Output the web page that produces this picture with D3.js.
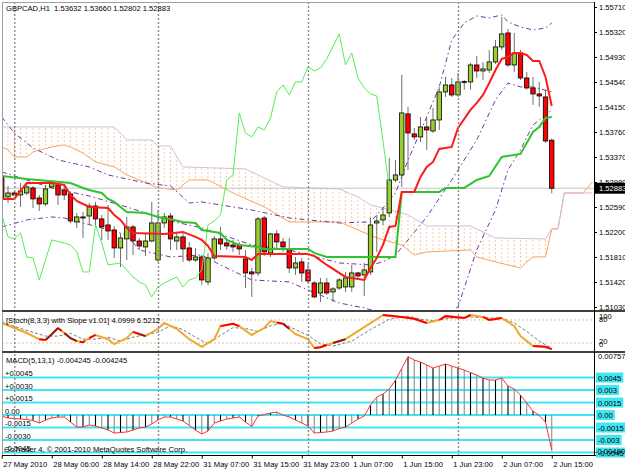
<!DOCTYPE html>
<html>
<head>
<meta charset="utf-8">
<script src="https://cdn.jsdelivr.net/npm/d3@7"></script>
<style>
  body { margin: 0; background: #fff; }
  text { font-family: "Liberation Sans", Arial, sans-serif; font-size: 7.6px; fill: #000; }
</style>
</head>
<body>
<script>
// GBPCAD H1, one bar per hour, bar 0 = 27 May 2010 22:00
const titleText = "GBPCAD,H1  1.53632 1.53660 1.52802 1.52883";
const stochTitle = "[Stoch(8,3,3) with Slope v1.01] 4.0999 6.5212";
const macdTitle = "MACD(5,13,1) -0.004245 -0.004245";
const copyright = "GoTrader 4, \u00a9 2001-2010 MetaQuotes Software Corp.";

const opens = [1.53059,1.52747,1.52809,1.52778,1.52809,1.52887,1.52731,1.52638,1.52903,1.52934,
  1.52856,1.52794,1.52357,1.52435,1.5245,1.52606,1.52404,1.5231,1.52232,1.51951,
  1.52092,1.52279,1.5206,1.51967,1.5206,1.51764,1.52341,1.5245,1.5206,1.52123,
  1.51951,1.51764,1.51811,1.51421,1.51795,1.52092,1.52029,1.51998,1.51998,1.5178,
  1.51577,1.51561,1.52419,1.51873,1.5217,1.52045,1.51936,1.51639,1.51733,1.51608,
  1.51405,1.51249,1.51405,1.51265,1.51327,1.51343,1.51343,1.51561,1.5153,1.51577,
  1.52341,1.52388,1.52497,1.53012,1.5309,1.54042,1.5373,1.53683,1.53839,1.53776,
  1.53948,1.54385,1.54494,1.54338,1.54541,1.54541,1.54806,1.54712,1.54728,1.54853,
  1.55087,1.55305,1.54806,1.54993,1.54603,1.54447,1.54354,1.54307,1.53632];
const highs = [1.53199,1.52918,1.5284,1.52965,1.5298,1.52918,1.52778,1.52934,1.5298,1.52965,
  1.52934,1.52825,1.52497,1.52513,1.52653,1.52669,1.52466,1.52622,1.52294,1.52185,
  1.52435,1.5231,1.52107,1.52185,1.52669,1.52544,1.52497,1.52497,1.52201,1.52201,
  1.52045,1.51951,1.51842,1.51873,1.52138,1.52279,1.52107,1.52076,1.52045,1.5192,
  1.51639,1.52435,1.5245,1.52185,1.52232,1.52107,1.52107,1.51811,1.51795,1.51717,
  1.51436,1.51483,1.51483,1.51343,1.51483,1.51577,1.51686,1.51577,1.51717,1.52419,
  1.52466,1.52591,1.53355,1.53324,1.5465,1.54151,1.53823,1.53995,1.53979,1.54135,
  1.54463,1.54619,1.54603,1.54681,1.54572,1.54837,1.54946,1.54853,1.5504,1.55196,
  1.55555,1.55368,1.55305,1.5504,1.54697,1.54619,1.54541,1.5442,1.5366];
const lows = [1.527,1.52653,1.52762,1.52591,1.52778,1.52575,1.52528,1.52606,1.52872,1.52622,
  1.527,1.52341,1.52263,1.52107,1.5231,1.52279,1.52076,1.52076,1.51795,1.51655,
  1.51764,1.51842,1.5192,1.51826,1.52045,1.51733,1.52263,1.5192,1.5192,1.51733,
  1.51733,1.51733,1.51374,1.51374,1.51764,1.5192,1.5192,1.51889,1.51842,1.51327,
  1.51187,1.51514,1.51826,1.51811,1.5192,1.51889,1.51561,1.5153,1.51421,1.51405,
  1.51171,1.51108,1.51218,1.51108,1.51296,1.51265,1.51265,1.51483,1.51202,1.5153,
  1.51889,1.5231,1.52435,1.5298,1.52903,1.53168,1.53636,1.53605,1.5348,1.53745,
  1.53792,1.54307,1.54307,1.54307,1.5442,1.5442,1.54603,1.54572,1.54681,1.54822,
  1.5504,1.54775,1.54697,1.54572,1.5442,1.54182,1.54151,1.53589,1.52802];
const closes = [1.52716,1.52809,1.52778,1.5284,1.52903,1.52716,1.52638,1.52872,1.52965,1.52778,
  1.52778,1.52372,1.52435,1.52419,1.52606,1.52404,1.52279,1.52216,1.51951,1.52107,
  1.52279,1.5206,1.51982,1.5206,1.52341,1.52341,1.52435,1.52092,1.52123,1.51936,
  1.51764,1.51811,1.51452,1.51795,1.52092,1.52014,1.51982,1.51967,1.51936,1.51561,
  1.51546,1.52404,1.51889,1.5217,1.52045,1.51967,1.51639,1.51717,1.51561,1.51436,
  1.51187,1.51405,1.51249,1.51312,1.51452,1.51483,1.51561,1.51514,1.51608,1.5231,
  1.52372,1.52466,1.53012,1.5309,1.54057,1.53745,1.53683,1.53839,1.53792,1.53948,
  1.54385,1.54494,1.54338,1.54541,1.54549,1.54806,1.54712,1.54744,1.54853,1.55087,
  1.5529,1.54806,1.54993,1.54603,1.54447,1.54354,1.54322,1.5362,1.52883];
const lastPrice = 1.52883;

// ichimoku lines, [bar, price]
const tenkan = [[0,1.52716],[2,1.52716],[4,1.52965],[8,1.52965],[10,1.52934],[11,1.52778],[12,1.52684],
  [14,1.52591],[17,1.52575],[18,1.52466],[19,1.52388],[20,1.52263],[21,1.52185],[26,1.5217],[29,1.52201],
  [31,1.52123],[32,1.52076],[33,1.51982],[34,1.51826],[39,1.51811],[40,1.51764],[41,1.51858],[49,1.51858],
  [50,1.51826],[52,1.51686],[55,1.51499],[58,1.51452],[59,1.51639],[60,1.51795],[61,1.51998],[62,1.52279],
  [63,1.52294],[64,1.52825],[66,1.52825],[67,1.53059],[68,1.53215],[69,1.53293],[70,1.53496],[72,1.53527],
  [73,1.53823],[75,1.54104],[76,1.54213],[77,1.54338],[78,1.54525],[79,1.54728],[80,1.549],[81,1.54931],
  [82,1.54993],[83,1.54993],[84,1.54962],[85,1.54868],[86,1.54868],[87,1.54619],[88,1.54166]];
const kijun = [[0,1.53074],[4,1.53028],[11,1.52965],[13,1.52887],[14,1.52856],[16,1.52809],[17,1.52716],
  [18,1.52669],[19,1.52591],[20,1.52513],[23,1.52497],[25,1.52435],[26,1.52419],[29,1.52357],[31,1.52341],
  [32,1.52232],[33,1.52216],[35,1.52185],[36,1.52076],[38,1.51998],[41,1.51967],[42,1.51936],[49,1.51936],
  [50,1.51873],[52,1.51811],[63,1.51811],[64,1.52825],[70,1.52825],[71,1.52887],[74,1.52887],[76,1.53012],
  [78,1.53074],[80,1.53371],[83,1.53418],[84,1.5359],[85,1.53761],[86,1.53839],[87,1.53979],[88,1.53995]];
const chikou = [[0,1.52466],[1,1.52123],[2,1.52092],[3,1.52185],[4,1.51811],[5,1.51795],[6,1.51452],
  [7,1.51764],[8,1.52076],[10,1.52029],[11,1.51998],[12,1.51889],[13,1.51577],[14,1.51577],[15,1.5231],
  [16,1.52029],[17,1.51686],[19,1.51717],[21,1.51499],[22,1.51421],[23,1.51374],[24,1.51187],[25,1.51343],
  [26,1.51405],[28,1.51499],[29,1.51343],[30,1.51452],[31,1.51483],[32,1.51608],[33,1.5231],[34,1.52372],
  [35,1.52466],[36,1.53012],[37,1.5309],[38,1.54057],[39,1.53745],[40,1.53683],[41,1.53839],[42,1.53792],
  [43,1.53979],[44,1.54385],[45,1.54494],[46,1.54338],[47,1.54541],[48,1.54541],[49,1.54775],[50,1.54712],
  [51,1.54759],[52,1.549],[54,1.5529],[55,1.54806],[56,1.54993],[57,1.54603],[58,1.54447],[59,1.54354],
  [60,1.54322],[61,1.5362],[62,1.52883]];
const spanA = [[0,1.53527],[1,1.5348],[2,1.53371],[4,1.53371],[5,1.53449],[8,1.53527],[10,1.53558],
  [11,1.53527],[13,1.53433],[15,1.53293],[18,1.53215],[20,1.5309],[22,1.53012],[25,1.52887],[28,1.52856],
  [30,1.53012],[33,1.53012],[37,1.52809],[42,1.52591],[46,1.52357],[54,1.52357],[57,1.52232],[60,1.52107],
  [64,1.51998],[66,1.51842],[68,1.51889],[75,1.5192],[76,1.51811],[79,1.51733],[83,1.51639],[84,1.51733],
  [85,1.51811],[87,1.51811],[88,1.52248],[89,1.52248],[90,1.52809],[93,1.52809],[94.5,1.5298]];
const spanB = [[0,1.53839],[18,1.53839],[20,1.53636],[24,1.53636],[25,1.53542],[27,1.53542],[29,1.53215],
  [39,1.53184],[45,1.52903],[54,1.52872],[57,1.52747],[59,1.52622],[64,1.52497],[65,1.52466],[68,1.52294],
  [75,1.52294],[79,1.52107],[87,1.52092],[88,1.52248],[89,1.52248],[90,1.52809],[94.5,1.52809]];

// bollinger style envelope, [bar, price]
const bandUpper = [[0,1.53995],[2,1.53745],[5,1.53511],[9,1.53324],[14,1.53215],[17,1.5309],[23,1.52965],
  [27,1.52918],[30,1.52653],[32,1.52669],[40,1.52544],[46,1.52419],[54,1.52341],[59,1.52357],[61,1.52575],
  [63,1.52809],[65,1.5332],[68,1.53995],[70,1.54463],[72,1.55196],[74,1.55461],[76,1.5557],[78,1.55539],
  [80,1.55586],[81,1.55477],[83,1.55399],[85,1.55352],[87,1.55383],[88,1.55461]];
const bandMiddle = [[0,1.53137],[8,1.52887],[14,1.52762],[20,1.52591],[27,1.52372],[32,1.52263],[40,1.51998],
  [46,1.5192],[54,1.51717],[59,1.51686],[61,1.51733],[63,1.51842],[65,1.52076],[68,1.52435],[72,1.53012],
  [76,1.53636],[79,1.5426],[81,1.54525],[83,1.54463],[85,1.54463],[88,1.54385]];
const bandLower = [[0,1.52279],[4,1.52388],[8,1.52435],[10,1.52419],[16,1.52263],[20,1.52154],[22,1.5192],
  [27,1.51811],[32,1.51842],[35,1.51686],[40,1.51452],[46,1.51421],[49,1.51296],[54,1.51093],[58,1.51015],
  [62,1.50906],[68,1.50672],[73,1.51031],[76,1.5192],[79,1.52544],[81,1.53168],[83,1.5348],[85,1.5387],
  [88,1.54104]];

// stochastic, [bar, value]
const stochMain = [[0,72],[2,59],[4,46],[6,30],[7,28],[8,43],[9,59],[10,46],[11,33],[12,25],[13,22],[14,33],
  [15,41],[17,30],[18,17],[20,33],[21,49],[23,38],[25,57],[26,72],[28,57],[30,30],[32,10],[34,30],[35,64],
  [37,70],[38,64],[40,41],[42,59],[43,77],[45,70],[46,57],[47,43],[49,30],[50,7],[51,9],[52,15],[55,30],
  [57,51],[59,72],[61,93],[64,88],[66,83],[68,72],[70,80],[71,90],[74,85],[75,93],[77,88],[78,80],[80,85],
  [82,64],[83,38],[85,12],[87,10],[88,4.0999]];
const stochSignal = [[0,75],[3,58],[7,38],[9,38],[11,45],[13,30],[15,30],[17,35],[19,25],[21,35],[23,42],
  [25,48],[27,65],[29,55],[31,35],[33,18],[35,40],[37,60],[39,58],[41,50],[43,65],[45,72],[47,55],[49,40],
  [51,18],[53,12],[56,25],[59,55],[62,82],[65,90],[67,82],[69,78],[72,85],[75,88],[78,85],[80,85],[82,72],
  [84,50],[86,25],[88,6.5212]];
const slopeRed = [[6,7],[9,9.6],[12.5,13.3],[14,15],[21,22],[35,38],[44,45],[50,52],[61,68],[70,75],[77,80],[85,88]];
const slopeDark = [[7,9],[10,12],[22,23],[45,46],[53,55]];
const stochLevels = [80, 20];

// MACD main per bar (signal period 1 so the signal equals it)
const macd = [-0.00012,-0.00036,-0.00042,-0.00048,-0.00054,-0.00066,-0.00096,-0.0006,-0.00036,-0.00024,
  -0.00024,-0.00084,-0.00144,-0.00144,-0.0012,-0.00132,-0.00156,-0.0018,-0.00216,-0.0021,
  -0.00204,-0.0018,-0.00156,-0.00144,-0.00108,-0.0006,-0.00024,-0.00024,-0.00048,-0.00072,
  -0.00126,-0.0018,-0.00228,-0.00192,-0.00096,-0.00072,-0.00048,-0.00036,-0.00024,-0.00084,
  -0.00138,-0.00012,0.00006,0.00024,0.00036,0,-0.00024,-0.0006,-0.00096,-0.00132,
  -0.00216,-0.0021,-0.00204,-0.00192,-0.00162,-0.00144,-0.00096,-0.00048,-0.00012,0.0012,
  0.00216,0.00252,0.00312,0.0042,0.0056,0.007,0.0066,0.00636,0.006,0.00564,
  0.00588,0.00612,0.00588,0.00564,0.0054,0.0051,0.0048,0.00444,0.0042,0.0042,
  0.00444,0.00348,0.00312,0.0024,0.00144,0.00048,-0.00006,-0.00084,-0.004245];
const macdLevels = [0.0045, 0.003, 0.0015, 0, -0.0015, -0.003, -0.0045];
const macdLeftLabels = ["+0.0045","+0.0030","+0.0015","0.00","-0.0015","-0.0030","-0.0045"];
const macdRightLabels = ["0.0045","0.003","0.0015","0.00","-0.0015","-0.003","-0.0045"];
const macdMax = 0.00757, macdMin = -0.0048;

const priceTicks = ["1.55710","1.55320","1.54930","1.54540","1.54150","1.53760","1.53370",
  "1.52980","1.52590","1.52200","1.51810","1.51420","1.51030"];
const timeTickBars = [0,8,16,24,32,40,48,56,64,72,80,88];
const timeTickLabels = ["27 May 2010","28 May 06:00","28 May 14:00","28 May 22:00","31 May 07:00",
  "31 May 15:00","31 May 23:00","1 Jun 07:00","1 Jun 15:00","1 Jun 23:00","2 Jun 07:00","2 Jun 15:00"];
const daySeparators = [2, 25, 49, 73];

// ---- layout ----
const W = 625, H = 469;
const left = 2, right = 594;
const mainTop = 2, mainBot = 310, stTop = 312, stBot = 351, mdTop = 353, mdBot = 455;

const x = d3.scaleLinear().domain([0, 88]).range([1.75, 551.75]);
const y = d3.scaleLinear().domain([1.5103, 1.5571]).range([307, 7]);
const ySt = d3.scaleLinear().domain([0, 100]).range([350.7, 312.3]);
const yMd = d3.scaleLinear().domain([macdMin, macdMax]).range([455, 352]);

const svg = d3.select("body").append("svg").attr("width", W).attr("height", H);
svg.append("rect").attr("width", W).attr("height", H).attr("fill", "#fff");

const defs = svg.append("defs");
function clip(id, x0, y0, x1, y1) {
  defs.append("clipPath").attr("id", id).append("rect")
    .attr("x", x0).attr("y", y0).attr("width", x1 - x0).attr("height", y1 - y0);
}
clip("clipMain", left, mainTop, right, mainBot);
clip("clipSt", left, stTop, right, stBot);
clip("clipMd", left, mdTop, right, mdBot);

let pat = defs.append("pattern").attr("id", "kumo").attr("patternUnits", "userSpaceOnUse")
  .attr("x", x(0) - 3.125).attr("y", 0).attr("width", 6.25).attr("height", 4);
pat.append("rect").attr("x", 2.6).attr("y", 0).attr("width", 1).attr("height", 2).attr("fill", "#f6c9a4");

// value of a [bar, v] polyline at bar b
function at(pts, b) {
  if (b <= pts[0][0]) return pts[0][1];
  for (let k = 1; k < pts.length; k++) {
    if (b <= pts[k][0]) {
      let b0 = pts[k - 1][0], v0 = pts[k - 1][1], b1 = pts[k][0], v1 = pts[k][1];
      return v0 + (v1 - v0) * (b - b0) / (b1 - b0);
    }
  }
  return pts[pts.length - 1][1];
}
function slice(pts, s, e) {
  let out = [[s, at(pts, s)]];
  pts.forEach(p => { if (p[0] > s && p[0] < e) out.push(p); });
  out.push([e, at(pts, e)]);
  return out;
}

// ---- main panel ----
let g = svg.append("g").attr("clip-path", "url(#clipMain)");
let line = d3.line().x(d => x(d[0])).y(d => y(d[1]));

let cloudBars = Array.from(new Set(spanA.map(d => d[0]).concat(spanB.map(d => d[0])))).sort((a, b) => a - b);
g.append("path")
  .attr("d", d3.area().x(b => x(b)).y0(b => y(at(spanA, b))).y1(b => y(at(spanB, b)))(cloudBars))
  .attr("fill", "url(#kumo)");
g.append("path").attr("d", line(spanA)).attr("fill", "none").attr("stroke", "#f4a460").attr("stroke-width", 1);
g.append("path").attr("d", line(spanB)).attr("fill", "none").attr("stroke", "#d8bcd8").attr("stroke-width", 1);

g.append("line")
  .attr("x1", left).attr("x2", right).attr("y1", y(lastPrice)).attr("y2", y(lastPrice))
  .attr("stroke", "#c4c4c4").attr("stroke-width", 1);

[bandUpper, bandMiddle, bandLower].forEach(band => {
  g.append("path").attr("d", line(band)).attr("fill", "none")
    .attr("stroke", "#6b3a9e").attr("stroke-width", 1).attr("stroke-dasharray", "5,3,1.5,3");
});

let idx = d3.range(opens.length);
g.selectAll(".wick").data(idx).enter().append("line")
  .attr("class", "wick")
  .attr("x1", i => x(i)).attr("x2", i => x(i))
  .attr("y1", i => y(highs[i])).attr("y2", i => y(lows[i]))
  .attr("stroke", "#707070").attr("stroke-width", 1);
g.selectAll(".body").data(idx).enter().append("rect")
  .attr("class", "body")
  .attr("x", i => x(i) - 2.2).attr("width", 4.4)
  .attr("y", i => y(Math.max(opens[i], closes[i])))
  .attr("height", i => Math.max(1, Math.abs(y(opens[i]) - y(closes[i]))))
  .attr("fill", i => closes[i] >= opens[i] ? "#9acd32" : "#ff0000")
  .attr("stroke", "#000").attr("stroke-width", 0.8);

g.append("path").attr("d", line(chikou)).attr("fill", "none").attr("stroke", "#55ee55").attr("stroke-width", 1);
g.append("path").attr("d", line(kijun)).attr("fill", "none").attr("stroke", "#2fc42f").attr("stroke-width", 2);
g.append("path").attr("d", line(tenkan)).attr("fill", "none").attr("stroke", "#ff1a1a").attr("stroke-width", 2);

// ---- stochastic panel ----
let gs = svg.append("g").attr("clip-path", "url(#clipSt)");
let lineSt = d3.line().x(d => x(d[0])).y(d => ySt(d[1]));
stochLevels.forEach(v => {
  gs.append("line").attr("x1", left).attr("x2", right).attr("y1", ySt(v)).attr("y2", ySt(v))
    .attr("stroke", "#d9c3a3").attr("stroke-dasharray", "2,2");
});
gs.append("path").attr("d", lineSt(stochSignal)).attr("fill", "none")
  .attr("stroke", "#7a7a7a").attr("stroke-width", 1).attr("stroke-dasharray", "3,2");
gs.append("path").attr("d", lineSt(stochMain)).attr("fill", "none")
  .attr("stroke", "#f0a830").attr("stroke-width", 2);
slopeRed.forEach(r => {
  gs.append("path").attr("d", lineSt(slice(stochMain, r[0], r[1]))).attr("fill", "none")
    .attr("stroke", "#ff0000").attr("stroke-width", 2);
});
slopeDark.forEach(r => {
  gs.append("path").attr("d", lineSt(slice(stochMain, r[0], r[1]))).attr("fill", "none")
    .attr("stroke", "#8b1c1c").attr("stroke-width", 2);
});

// ---- MACD panel ----
let gm = svg.append("g").attr("clip-path", "url(#clipMd)");
macdLevels.forEach(v => {
  gm.append("line").attr("x1", left).attr("x2", right).attr("y1", yMd(v)).attr("y2", yMd(v))
    .attr("stroke", "#3fe6f2").attr("stroke-width", 2);
});
gm.selectAll(".hist").data(idx).enter().append("line")
  .attr("class", "hist")
  .attr("x1", i => x(i)).attr("x2", i => x(i))
  .attr("y1", yMd(0)).attr("y2", i => yMd(macd[i]))
  .attr("stroke", i => i % 2 ? "#000" : "#8c8c8c").attr("stroke-width", 1.1);
gm.append("path")
  .attr("d", d3.line().x((d, i) => x(i)).y(d => yMd(d))(macd))
  .attr("fill", "none").attr("stroke", "#ff3030").attr("stroke-width", 1);

macdLevels.forEach((v, k) => {
  svg.append("text").attr("x", 5).attr("y", yMd(v) - 1.5).text(macdLeftLabels[k]);
});
svg.append("text").attr("x", 4).attr("y", 452).text(copyright);

// ---- day separators ----
daySeparators.forEach(b => {
  svg.append("line").attr("x1", x(b) + 0.5).attr("x2", x(b) + 0.5).attr("y1", mainTop).attr("y2", mdBot)
    .attr("stroke", "#8a8a8a").attr("stroke-width", 1.4).attr("stroke-dasharray", "2,2");
});

// ---- frames ----
svg.append("line").attr("x1", left).attr("x2", right).attr("y1", 2.5).attr("y2", 2.5).attr("stroke", "#a0a0a0");
svg.append("line").attr("x1", 2.5).attr("x2", 2.5).attr("y1", 2).attr("y2", mdBot).attr("stroke", "#a0a0a0");
[310.5, 311.5, 351.5, 352.5].forEach(v => {
  svg.append("line").attr("x1", left).attr("x2", W).attr("y1", v).attr("y2", v).attr("stroke", "#404040");
});
svg.append("line").attr("x1", right + 0.5).attr("x2", right + 0.5).attr("y1", 2).attr("y2", mdBot + 1).attr("stroke", "#000");
svg.append("line").attr("x1", left).attr("x2", W).attr("y1", mdBot + 0.5).attr("y2", mdBot + 0.5).attr("stroke", "#000");

// ---- axes ----
let pAxis = svg.append("g").attr("transform", "translate(" + right + ",0)")
  .call(d3.axisRight(y).tickValues(priceTicks.map(Number)).tickFormat(d3.format(".5f")).tickSize(3).tickPadding(2));
pAxis.select(".domain").remove();
pAxis.selectAll("text").attr("font-size", null).style("font-size", "7.6px");
pAxis.attr("font-family", null);

svg.append("rect").attr("x", right + 1).attr("y", y(lastPrice) - 5.5).attr("width", W - right - 1).attr("height", 11).attr("fill", "#000");
svg.append("text").attr("x", right + 5).attr("y", y(lastPrice) + 3).style("fill", "#fff").text(d3.format(".5f")(lastPrice));

let tAxis = svg.append("g").attr("transform", "translate(0," + (mdBot + 0.5) + ")")
  .call(d3.axisBottom(x).tickValues(timeTickBars).tickFormat((d, i) => timeTickLabels[i]).tickSize(3).tickPadding(3));
tAxis.select(".domain").remove();
tAxis.selectAll("text").attr("text-anchor", "start").attr("x", 1).style("font-size", "7.6px");
tAxis.attr("font-family", null);

// stoch scale labels
[[100, 316], [80, 318.5], [20, 341], [0, 344]].forEach(d => {
  svg.append("text").attr("x", right + 5).attr("y", d[1] + 3).text(d[0]);
});

// macd scale labels
svg.append("text").attr("x", right + 4).attr("y", yMd(macdMax) + 7).text(macdMax.toFixed(5));
macdLevels.forEach((v, k) => {
  let t = svg.append("text").attr("x", right + 4).attr("y", yMd(v) + 3).text(macdRightLabels[k]);
  let w = t.node().getComputedTextLength();
  svg.insert("rect", function () { return t.node(); })
    .attr("x", right + 2).attr("y", yMd(v) - 5).attr("width", w + 4).attr("height", 10).attr("fill", "#3fe6f2");
});
svg.append("text").attr("x", right + 1).attr("y", yMd(macdMin) - 1.5).text(macdMin.toFixed(5));

// titles
svg.append("text").attr("x", 6).attr("y", 11).style("white-space", "pre").text(titleText);
svg.append("text").attr("x", 6).attr("y", 323).text(stochTitle);
svg.append("text").attr("x", 6).attr("y", 363).text(macdTitle);
</script>
</body>
</html>
